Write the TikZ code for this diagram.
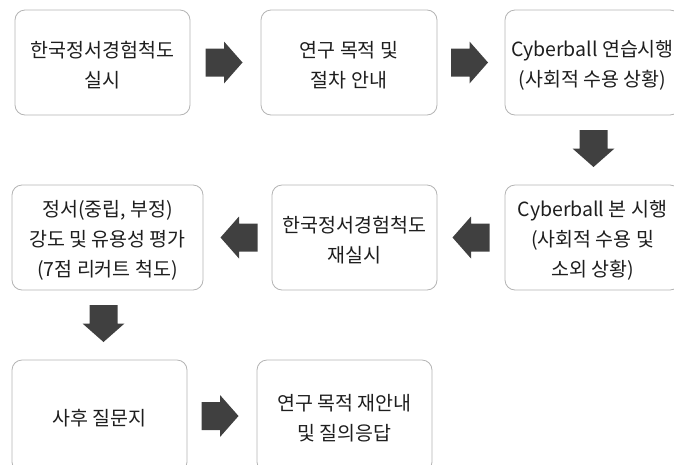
\documentclass[tikz,border=0pt]{standalone}
\usepackage{fontspec}
\setmainfont{Noto Sans CJK KR}
\usetikzlibrary{calc}
\definecolor{boxline}{HTML}{B4B4B4}
\definecolor{txt}{HTML}{1E1E1E}
\definecolor{arrowc}{HTML}{404040}
\begin{document}
\begin{tikzpicture}[x=1pt,y=-1pt,
  box/.style={draw=boxline, line width=0.8pt, rounded corners=10pt, fill=white,
    inner sep=0pt, minimum height=105pt},
  lbl/.style={text=txt, align=center, inner sep=0pt, yshift=-2.5pt,
    font=\fontsize{19.5}{30}\selectfont},
  blk/.pic={\fill[arrowc] (-18.5,-14) -- (0,-14) -- (0,-21) -- (18.5,0) -- (0,21) -- (0,14) -- (-18.5,14) -- cycle;}]
\useasboundingbox (0,0) rectangle (674,464);
\clip (0,0) rectangle (674,464);
% row 1
\node[box, minimum width=175pt, label={[lbl]center:{한국정서경험척도\\실시}}] (b1) at (102.5,62.5) {};
\node[box, minimum width=176pt, label={[lbl]center:{연구 목적 및\\절차 안내}}] (b2) at (349,62.5) {};
\node[box, minimum width=175pt, label={[lbl]center:{Cyberball 연습시행\\(사회적 수용 상황)}}] (b3) at (592.5,62.5) {};
% row 2
\node[box, minimum width=175pt, label={[lbl]center:{Cyberball 본 시행\\(사회적 수용 및\\소외 상황)}}] (b6) at (592.5,237.5) {};
\node[box, minimum width=165pt, label={[lbl]center:{한국정서경험척도\\재실시}}] (b5) at (354.5,237.5) {};
\node[box, minimum width=191pt, label={[lbl]center:{정서(중립, 부정)\\강도 및 유용성 평가\\(7점 리커트 척도)}}] (b4) at (107.5,237.5) {};
% row 3
\node[box, minimum width=175pt, minimum height=112pt, label={[lbl]center:{사후 질문지}}] (b7) at (99.5,416) {};
\node[box, minimum width=175pt, minimum height=112pt, label={[lbl]center:{연구 목적 재안내\\및 질의응답}}] (b8) at (344.5,416) {};
% block arrows
\pic at ($(b1.east)!0.5!(b2.west)+(-1.5,0)$) {blk};
\pic at ($(b2.east)!0.5!(b3.west)+(-1.5,0)$) {blk};
\pic[rotate=-90] at ($(b3.south)!0.5!(b6.north)+(1,-1.5)$) {blk};
\pic[rotate=180] at ($(b6.west)!0.5!(b5.east)$) {blk};
\pic[rotate=180] at ($(b5.west)!0.5!(b4.east)+(1.5,0)$) {blk};
\pic[rotate=-90] at ($(b4.south)!0.5!(b7.north)+(0,-1.5)$) {blk};
\pic at ($(b7.east)!0.5!(b8.west)+(-2,0)$) {blk};
\end{tikzpicture}
\end{document}
